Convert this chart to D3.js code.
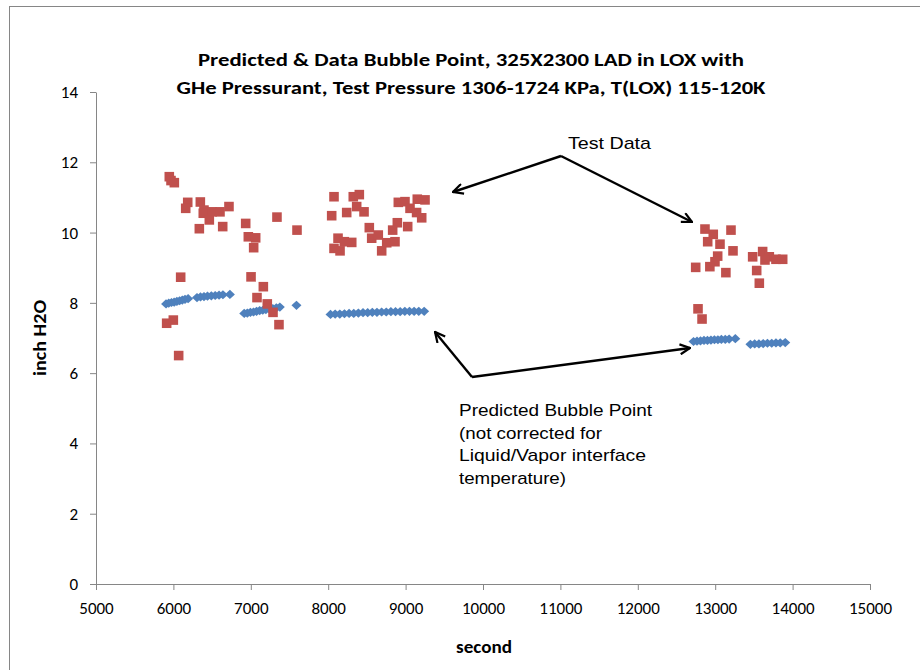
<!DOCTYPE html>
<html>
<head>
<meta charset="utf-8">
<script src="https://cdn.jsdelivr.net/npm/d3@7"></script>
<style>
  html, body { margin: 0; padding: 0; background: #fff; }
  svg { display: block; }
  text { font-family: Carlito, Calibri, Lato, "Liberation Sans", sans-serif; fill: #000; }
  .note { font-family: "Liberation Sans", Arial, sans-serif; }
  .tick text { font-size: 17px; }
</style>
</head>
<body>
<svg id="chart" width="920" height="670"></svg>
<script>
// Predicted bubble point (blue diamonds)
const predSeconds = [
  5905, 5940, 5975, 6010, 6045, 6080, 6115, 6150, 6190,
  6305, 6350, 6395, 6440, 6490, 6540, 6590, 6640, 6730,
  6915, 6955, 6995, 7035, 7075, 7115, 7155, 7195, 7240, 7285, 7330, 7375,
  7590,
  8030, 8090, 8150, 8210, 8270, 8330, 8390, 8450, 8510, 8570, 8630, 8690,
  8750, 8810, 8870, 8930, 8990, 9050, 9110, 9170, 9240,
  12720, 12765, 12810, 12855, 12900, 12945, 12990, 13035, 13080, 13130, 13180, 13260,
  13455, 13510, 13565, 13620, 13675, 13730, 13785, 13840, 13905
];
const predInch = [
  7.97, 7.99, 8.01, 8.02, 8.04, 8.06, 8.08, 8.10, 8.12,
  8.15, 8.17, 8.18, 8.19, 8.20, 8.21, 8.22, 8.23, 8.24,
  7.70, 7.71, 7.73, 7.74, 7.76, 7.78, 7.79, 7.81, 7.82, 7.84, 7.86, 7.88,
  7.93,
  7.67, 7.68, 7.68, 7.69, 7.70, 7.70, 7.71, 7.72, 7.72, 7.73, 7.73, 7.74,
  7.74, 7.75, 7.75, 7.75, 7.76, 7.76, 7.76, 7.76, 7.76,
  6.90, 6.91, 6.92, 6.93, 6.93, 6.94, 6.95, 6.95, 6.96, 6.96, 6.97, 6.98,
  6.82, 6.83, 6.83, 6.84, 6.85, 6.85, 6.86, 6.86, 6.87
];

// Measured test data (red squares)
const testSeconds = [
  5947, 5969, 6012, 6185, 6159, 6348, 6395, 6386, 6499, 6602, 6718, 6464,
  6335, 6637, 6934, 6968, 7063, 7037, 7338, 7597, 6094, 7003, 7162, 7080,
  7213, 7287, 7364, 5913, 5999, 6068,
  8075, 8045, 8324, 8402, 8368, 8239, 8463, 8127, 8075, 8153, 8208, 8304,
  8531, 8562, 8647, 8756, 8691, 8863, 8833, 8893, 9027, 8906, 8992, 9057,
  9151, 9251, 9142, 9208,
  12868, 12975, 13204, 12903, 13062, 13230, 13032, 12997, 12748, 12931, 13138,
  13484, 13613, 13699, 13643, 13785, 13872, 13536, 13570, 12778, 12830
];
const testInch = [
  11.59, 11.48, 11.42, 10.86, 10.69, 10.87, 10.64, 10.55, 10.59, 10.59, 10.74, 10.36,
  10.11, 10.17, 10.26, 9.88, 9.85, 9.57, 10.44, 10.07, 8.73, 8.74, 8.46, 8.15,
  7.97, 7.73, 7.38, 7.42, 7.51, 6.50,
  11.02, 10.48, 11.02, 11.08, 10.74, 10.57, 10.59, 9.84, 9.55, 9.48, 9.74, 9.72,
  10.14, 9.84, 9.93, 9.71, 9.48, 9.74, 10.07, 10.28, 10.17, 10.86, 10.88, 10.69,
  10.95, 10.93, 10.57, 10.42,
  10.10, 9.95, 10.07, 9.74, 9.67, 9.48, 9.33, 9.17, 9.01, 9.03, 8.86,
  9.31, 9.46, 9.31, 9.22, 9.24, 9.24, 8.92, 8.56, 7.83, 7.54
];

const xTicks = [5000, 6000, 7000, 8000, 9000, 10000, 11000, 12000, 13000, 14000, 15000];
const yTicks = [0, 2, 4, 6, 8, 10, 12, 14];

const titleLines = [
  "Predicted & Data Bubble Point, 325X2300  LAD in LOX with",
  "GHe Pressurant, Test Pressure 1306-1724  KPa, T(LOX) 115-120K"
];
const noteLines = [
  "Predicted Bubble Point",
  "(not corrected for",
  "Liquid/Vapor interface",
  "temperature)"
];

const svg = d3.select("#chart");
const axisGrey = "#868686";

// outer chart frame
svg.append("rect")
  .attr("x", 9.5).attr("y", 6.5)
  .attr("width", 940).attr("height", 700)
  .attr("fill", "none").attr("stroke", axisGrey).attr("stroke-width", 1);

const x = d3.scaleLinear().domain([5000, 15000]).range([96, 870]);
const y = d3.scaleLinear().domain([0, 14]).range([584, 92]);

// axes
const xAxis = svg.append("g")
  .attr("transform", `translate(0,${y(0)})`)
  .call(d3.axisBottom(x).tickValues(xTicks).tickFormat(d3.format("d")).tickSize(6).tickPadding(8).tickSizeOuter(0));
const yAxis = svg.append("g")
  .attr("transform", `translate(${x(5000)},0)`)
  .call(d3.axisLeft(y).tickValues(yTicks).tickSize(6).tickPadding(9).tickSizeOuter(0));

[xAxis, yAxis].forEach(g => {
  g.attr("font-family", null).attr("font-size", null);
  g.select(".domain").attr("stroke", axisGrey);
  g.selectAll(".tick line").attr("stroke", axisGrey);
  g.selectAll(".tick text").attr("fill", "#000");
});
xAxis.selectAll(".tick text").attr("dy", "0.95em");
yAxis.selectAll(".tick text").attr("dx", "-3");

// titles
svg.selectAll("text.title")
  .data(titleLines)
  .join("text")
  .attr("class", "title")
  .attr("x", 471)
  .attr("y", (d, i) => 66 + i * 28)
  .attr("text-anchor", "middle")
  .attr("font-size", 18)
  .attr("font-weight", "bold")
  .attr("textLength", (d, i) => i === 0 ? 546 : 589)
  .attr("lengthAdjust", "spacingAndGlyphs")
  .text(d => d);

svg.append("text")
  .attr("x", 484).attr("y", 653)
  .attr("text-anchor", "middle")
  .attr("font-size", 17).attr("font-weight", "bold")
  .attr("textLength", 56)
  .attr("lengthAdjust", "spacingAndGlyphs")
  .text("second");

svg.append("text")
  .attr("transform", "translate(46,338) rotate(-90)")
  .attr("text-anchor", "middle")
  .attr("font-size", 17).attr("font-weight", "bold")
  .attr("textLength", 76)
  .attr("lengthAdjust", "spacingAndGlyphs")
  .text("inch H2O");

// data marks
const diamond = {
  draw(ctx, size) {
    const w = Math.sqrt(size) / 2, h = w * 0.92;
    ctx.moveTo(0, -h); ctx.lineTo(w, 0); ctx.lineTo(0, h); ctx.lineTo(-w, 0); ctx.closePath();
  }
};

svg.append("g")
  .selectAll("path")
  .data(predSeconds.map((s, i) => [s, predInch[i]]))
  .join("path")
  .attr("transform", d => `translate(${x(d[0])},${y(d[1])})`)
  .attr("d", d3.symbol(diamond, 100))
  .attr("fill", "#4F81BD");

svg.append("g")
  .selectAll("path")
  .data(testSeconds.map((s, i) => [s, testInch[i]]))
  .join("path")
  .attr("transform", d => `translate(${x(d[0])},${y(d[1])})`)
  .attr("d", d3.symbol(d3.symbolSquare, 92))
  .attr("fill", "#C0504D");

// annotation arrows
const defs = svg.append("defs");
defs.append("marker")
  .attr("id", "arrowOpen")
  .attr("viewBox", "0 0 12 12")
  .attr("refX", 11).attr("refY", 6)
  .attr("markerWidth", 12).attr("markerHeight", 12)
  .attr("markerUnits", "userSpaceOnUse")
  .attr("orient", "auto")
  .append("path")
  .attr("d", "M1,1 L11,6 L1,11")
  .attr("fill", "none").attr("stroke", "#000").attr("stroke-width", 2.2);

const arrows = [
  [[561, 156], [453, 192]],
  [[561, 156], [692, 222]],
  [[472, 377], [435, 332]],
  [[472, 377], [690, 348]]
];
svg.append("g")
  .selectAll("line")
  .data(arrows)
  .join("line")
  .attr("x1", d => d[0][0]).attr("y1", d => d[0][1])
  .attr("x2", d => d[1][0]).attr("y2", d => d[1][1])
  .attr("stroke", "#000").attr("stroke-width", 2.4)
  .attr("marker-end", "url(#arrowOpen)");

svg.append("text")
  .attr("class", "note")
  .attr("x", 568).attr("y", 149)
  .attr("font-size", 17)
  .attr("textLength", 83)
  .attr("lengthAdjust", "spacingAndGlyphs")
  .text("Test Data");

const noteWidths = [193, 143, 187, 107];
svg.append("g")
  .selectAll("text")
  .data(noteLines)
  .join("text")
  .attr("class", "note")
  .attr("x", 459)
  .attr("y", (d, i) => 416 + i * 22.5)
  .attr("font-size", 17)
  .attr("textLength", (d, i) => noteWidths[i])
  .attr("lengthAdjust", "spacingAndGlyphs")
  .text(d => d);
</script>
</body>
</html>
